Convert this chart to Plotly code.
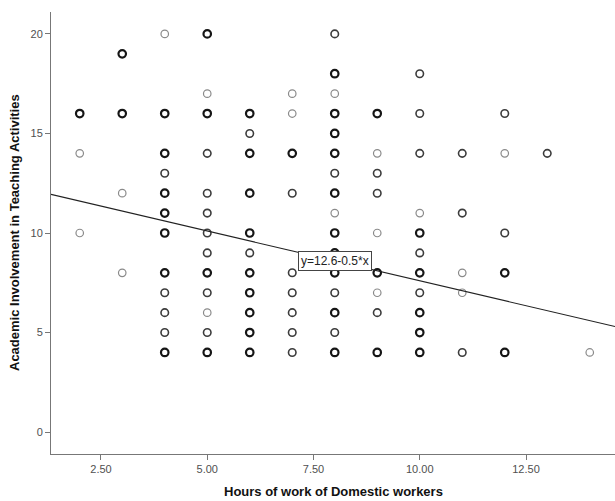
import plotly.graph_objects as go

# Data: hours of work (x), academic involvement (y), overlap level (1 light, 2 normal, 3 heavy)
hours = [2, 2, 2,
         3, 3, 3, 3,
         4, 4, 4, 4, 4, 4, 4, 4, 4, 4, 4, 4,
         5, 5, 5, 5, 5, 5, 5, 5, 5, 5, 5, 5, 5,
         6, 6, 6, 6, 6, 6, 6, 6, 6, 6, 6,
         7, 7, 7, 7, 7, 7, 7, 7, 7,
         8, 8, 8, 8, 8, 8, 8, 8, 8, 8, 8, 8, 8, 8, 8, 8,
         9, 9, 9, 9, 9, 9, 9, 9, 9,
         10, 10, 10, 10, 10, 10, 10, 10, 10, 10, 10,
         11, 11, 11, 11, 11,
         12, 12, 12, 12, 12,
         13,
         14]
involvement = [16, 14, 10,
               19, 16, 12, 8,
               20, 16, 14, 13, 12, 11, 10, 8, 7, 6, 5, 4,
               20, 17, 16, 14, 12, 11, 10, 9, 8, 7, 6, 5, 4,
               16, 15, 14, 12, 10, 9, 8, 7, 6, 5, 4,
               17, 16, 14, 12, 8, 7, 6, 5, 4,
               20, 18, 17, 16, 15, 14, 13, 12, 11, 10, 9, 8, 7, 6, 5, 4,
               16, 14, 13, 12, 10, 8, 7, 6, 4,
               18, 16, 14, 11, 10, 9, 8, 7, 6, 5, 4,
               14, 11, 8, 7, 4,
               16, 14, 10, 8, 4,
               14,
               4]
overlap = [3, 1, 1,
           3, 3, 1, 1,
           1, 3, 3, 2, 3, 3, 3, 3, 2, 2, 2, 3,
           3, 1, 3, 2, 2, 2, 2, 2, 3, 2, 1, 2, 3,
           3, 2, 3, 3, 3, 2, 3, 3, 3, 3, 3,
           1, 1, 3, 2, 2, 2, 2, 2, 2,
           2, 3, 1, 3, 3, 3, 2, 3, 1, 3, 3, 3, 2, 3, 2, 3,
           3, 1, 2, 2, 1, 3, 1, 2, 3,
           2, 2, 2, 1, 3, 2, 3, 2, 3, 3, 3,
           2, 2, 1, 1, 2,
           2, 1, 2, 3, 3,
           2,
           1]

intercept = 12.6
slope = -0.5
fit_label = "y=12.6-0.5*x"

x_ticks = [2.5, 5.0, 7.5, 10.0, 12.5]
x_ticklabels = ["2.50", "5.00", "7.50", "10.00", "12.50"]
y_ticks = [0, 5, 10, 15, 20]

x_title = "Hours of work of Domestic workers"
y_title = "Academic Involvement in Teaching Activities"

x_range = [1.324, 14.594]
y_range = [-1.1, 21.1]

styles = {1: ("#8a8a8a", 1.2), 2: ("#3c3c3c", 1.6), 3: ("#151515", 2.2)}

fig = go.Figure()

for lvl in (1, 2, 3):
    xs = [h for h, o in zip(hours, overlap) if o == lvl]
    ys = [v for v, o in zip(involvement, overlap) if o == lvl]
    col, w = styles[lvl]
    fig.add_trace(go.Scatter(
        x=xs, y=ys, mode="markers",
        marker=dict(symbol="circle-open", size=7.5, color=col, line=dict(width=w, color=col)),
        showlegend=False, hoverinfo="x+y"))

fx = [x_range[0], x_range[1]]
fy = [intercept + slope * v for v in fx]
fig.add_trace(go.Scatter(x=fx, y=fy, mode="lines", line=dict(color="#222222", width=1.1),
                         showlegend=False, hoverinfo="skip"))

lab_x = 8.0
fig.add_annotation(x=lab_x, y=intercept + slope * lab_x, text=fit_label, showarrow=False,
                   font=dict(family="Liberation Sans, Arial", size=12, color="#222"),
                   bgcolor="white", bordercolor="#444", borderwidth=1, borderpad=2)

title_font = dict(family="Liberation Sans, Arial", size=13, color="#111")
fig.add_annotation(xref="paper", yref="paper", x=0.5, y=0, yshift=-37, xanchor="center",
                   yanchor="middle", text="<b>" + x_title + "</b>", showarrow=False, font=title_font)
fig.add_annotation(xref="paper", yref="paper", x=0, y=0.5, xshift=-37, xanchor="center",
                   yanchor="middle", textangle=-90, text="<b>" + y_title + "</b>",
                   showarrow=False, font=title_font)

axis_font = dict(family="Liberation Sans, Arial", size=11, color="#505050")
fig.update_xaxes(range=x_range, tickvals=x_ticks, ticktext=x_ticklabels, automargin=False,
                 showgrid=False, zeroline=False, showline=True, linecolor="#777", linewidth=1,
                 ticks="outside", ticklen=5, tickcolor="#777", tickfont=axis_font)
fig.update_yaxes(range=y_range, tickvals=y_ticks, automargin=False,
                 showgrid=False, zeroline=False, showline=True, linecolor="#777", linewidth=1,
                 ticks="outside", ticklen=5, tickcolor="#777", tickfont=axis_font)

fig.update_layout(template="none", width=615, height=501, margin=dict(l=51, r=0, t=12, b=47),
                  plot_bgcolor="white", paper_bgcolor="white")

fig.write_html("out.html", config={"displayModeBar": False},
               post_script="document.body.style.margin='0px';")
